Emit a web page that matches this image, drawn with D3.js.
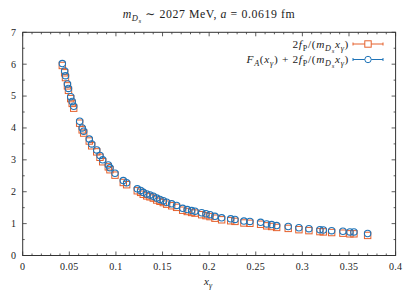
<!DOCTYPE html>
<html>
<head>
<meta charset="utf-8">
<script src="https://cdn.jsdelivr.net/npm/d3@7"></script>
<style>
  body { margin: 0; background: #fff; }
  svg text { font-family: "Liberation Serif", "DejaVu Serif", serif; fill: #222; }
</style>
</head>
<body>
<div id="chart"></div>
<script>
// x_gamma values (shared by both series)
const xGamma = [0.0425, 0.0450, 0.0459, 0.0480, 0.0491, 0.0515, 0.0531, 0.0547, 0.0611, 0.0638,
  0.0654, 0.0714, 0.0740, 0.0794, 0.0829, 0.0858, 0.0918, 0.0936, 0.0990, 0.1079,
  0.1115, 0.1229, 0.1265, 0.1293, 0.1330, 0.1365, 0.1401, 0.1437, 0.1472, 0.1508,
  0.1544, 0.1598, 0.1651, 0.1716, 0.1765, 0.1812, 0.1848, 0.1920, 0.1966, 0.2009,
  0.2062, 0.2134, 0.2231, 0.2277, 0.2373, 0.2437, 0.2552, 0.2617, 0.2670, 0.2724,
  0.2848, 0.2963, 0.3070, 0.3188, 0.3224, 0.3314, 0.3435, 0.3510, 0.3553, 0.3700];

// F_A(x) + 2 fP/(mDs x)  (blue circles)
const faPlus = [6.02, 5.79, 5.64, 5.38, 5.24, 4.98, 4.83, 4.68, 4.21, 4.00,
  3.90, 3.65, 3.50, 3.31, 3.14, 3.00, 2.84, 2.75, 2.58, 2.35,
  2.28, 2.09, 2.04, 1.98, 1.93, 1.90, 1.86, 1.80, 1.76, 1.72,
  1.67, 1.62, 1.57, 1.48, 1.44, 1.41, 1.39, 1.34, 1.31, 1.28,
  1.23, 1.18, 1.15, 1.13, 1.08, 1.07, 1.04, 0.99, 0.97, 0.94,
  0.91, 0.87, 0.84, 0.81, 0.80, 0.78, 0.76, 0.74, 0.74, 0.69];

// 2 fP/(mDs x)  (orange squares)
const fpTerm = [5.96, 5.73, 5.58, 5.32, 5.18, 4.92, 4.77, 4.62, 4.15, 3.94,
  3.84, 3.59, 3.44, 3.25, 3.08, 2.94, 2.78, 2.69, 2.52, 2.29,
  2.22, 2.03, 1.98, 1.92, 1.87, 1.84, 1.80, 1.74, 1.70, 1.66,
  1.61, 1.56, 1.51, 1.42, 1.38, 1.35, 1.33, 1.28, 1.25, 1.22,
  1.17, 1.12, 1.09, 1.07, 1.02, 1.01, 0.98, 0.93, 0.91, 0.88,
  0.85, 0.81, 0.78, 0.75, 0.74, 0.72, 0.70, 0.68, 0.68, 0.63];

const xTicks = [0, 0.05, 0.1, 0.15, 0.2, 0.25, 0.3, 0.35, 0.4];
const yTicks = [0, 1, 2, 3, 4, 5, 6, 7];

const W = 415, H = 291;
const orange = "#e5612d", blue = "#1f74b8";

const svg = d3.select("#chart").append("svg")
  .attr("width", W).attr("height", H);

const x = d3.scaleLinear().domain([0, 0.4]).range([22.7, 395.6]);
const y = d3.scaleLinear().domain([0, 7]).range([255.5, 32.3]);

// math-ish text helper: segs = [[text, italic, level]]
function mathText(sel, segs, size) {
  const offs = [0, size * 0.28, size * 0.45];
  const sizes = [size, size * 0.72, size * 0.58];
  let cur = 0;
  segs.forEach(([t, it, lv]) => {
    sel.append("tspan")
      .attr("dy", offs[lv] - cur)
      .style("font-style", it ? "italic" : "normal")
      .style("font-size", sizes[lv] + "px")
      .text(t);
    cur = offs[lv];
  });
}

// frame
svg.append("rect")
  .attr("x", x(0)).attr("y", y(7))
  .attr("width", x(0.4) - x(0)).attr("height", y(0) - y(7))
  .attr("fill", "none").attr("stroke", "#333").attr("stroke-width", 1);

// ticks on all four sides, pointing inward
const ticks = svg.append("g").attr("stroke", "#333").attr("stroke-width", 0.8);
d3.range(0, 41).forEach(i => {
  const v = i / 100;
  const len = i % 5 === 0 ? 4 : 2;
  ticks.append("line").attr("x1", x(v)).attr("x2", x(v)).attr("y1", y(0)).attr("y2", y(0) - len);
  ticks.append("line").attr("x1", x(v)).attr("x2", x(v)).attr("y1", y(7)).attr("y2", y(7) + len);
});
d3.range(0, 15).forEach(i => {
  const v = i / 2;
  const len = i % 2 === 0 ? 4 : 2;
  ticks.append("line").attr("y1", y(v)).attr("y2", y(v)).attr("x1", x(0)).attr("x2", x(0) + len);
  ticks.append("line").attr("y1", y(v)).attr("y2", y(v)).attr("x1", x(0.4)).attr("x2", x(0.4) - len);
});

// tick labels
svg.append("g").selectAll("text").data(xTicks).join("text")
  .attr("x", d => x(d)).attr("y", 270)
  .attr("text-anchor", "middle").style("font-size", "10px")
  .style("letter-spacing", "0.3px")
  .text(d => d);
svg.append("g").selectAll("text").data(yTicks).join("text")
  .attr("x", 16).attr("y", d => y(d) + 3.4)
  .attr("text-anchor", "end").style("font-size", "10px")
  .text(d => d);

// title
const title = svg.append("text").attr("x", 209).attr("y", 18).attr("text-anchor", "middle")
  .style("letter-spacing", "0.6px");
mathText(title, [["m", true, 0], ["D", true, 1], ["s", true, 2], [" ∼ 2027 MeV, ", false, 0], ["a", true, 0], [" = 0.0619 fm", false, 0]], 11.8);

// x label
const xl = svg.append("text").attr("x", 208).attr("y", 285).attr("text-anchor", "middle");
mathText(xl, [["x", true, 0], ["γ", true, 1]], 11);

// points
const pts = xGamma.map((d, i) => ({ x: d, a: fpTerm[i], b: faPlus[i] }));

svg.append("g").selectAll("rect").data(pts).join("rect")
  .attr("x", d => x(d.x) - 3.2).attr("y", d => y(d.a) - 3.2)
  .attr("width", 6.4).attr("height", 6.4)
  .attr("fill", "none").attr("stroke", orange).attr("stroke-width", 1);

svg.append("g").selectAll("circle").data(pts).join("circle")
  .attr("cx", d => x(d.x)).attr("cy", d => y(d.b)).attr("r", 3.2)
  .attr("fill", "none").attr("stroke", blue).attr("stroke-width", 1.1);

// legend
const legend = [
  { color: orange, shape: "square", segs: [["2", false, 0], ["f", true, 0], ["P", false, 1], ["/(", false, 0], ["m", true, 0], ["D", true, 1], ["s", true, 2], ["x", true, 0], ["γ", true, 1], [")", false, 0]] },
  { color: blue, shape: "circle", segs: [["F", true, 0], ["A", true, 1], ["(", false, 0], ["x", true, 0], ["γ", true, 1], [") + 2", false, 0], ["f", true, 0], ["P", false, 1], ["/(", false, 0], ["m", true, 0], ["D", true, 1], ["s", true, 2], ["x", true, 0], ["γ", true, 1], [")", false, 0]] }
];
legend.forEach((l, i) => {
  const ly = 44 + i * 15.5;
  const t = svg.append("text").attr("x", 349).attr("y", ly + 3.5).attr("text-anchor", "end")
    .style("letter-spacing", "0.7px");
  mathText(t, l.segs, 11.3);
  const g = svg.append("g").attr("stroke", l.color).attr("fill", "none").attr("stroke-width", 1);
  g.append("line").attr("x1", 353).attr("x2", 383).attr("y1", ly).attr("y2", ly);
  g.append("line").attr("x1", 353).attr("x2", 353).attr("y1", ly - 1.5).attr("y2", ly + 1.5);
  g.append("line").attr("x1", 383).attr("x2", 383).attr("y1", ly - 1.5).attr("y2", ly + 1.5);
  if (l.shape === "square") {
    g.append("rect").attr("x", 368 - 3.2).attr("y", ly - 3.2).attr("width", 6.4).attr("height", 6.4).attr("fill", "#fff");
  } else {
    g.append("circle").attr("cx", 368).attr("cy", ly).attr("r", 3.2).attr("fill", "#fff");
  }
});
</script>
</body>
</html>
